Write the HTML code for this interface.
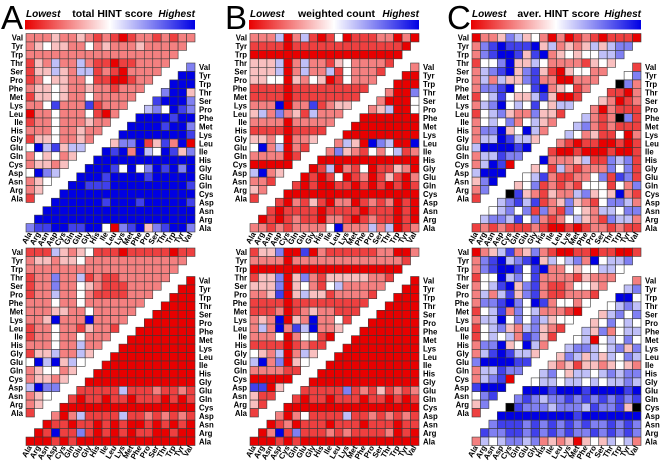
<!DOCTYPE html>
<html><head><meta charset="utf-8">
<style>
html,body{margin:0;padding:0;background:#fff;}
svg{display:block;font-family:"Liberation Sans",Arial,sans-serif;}
</style></head>
<body>
<svg id="fig" width="662" height="462" viewBox="0 0 662 462" xmlns="http://www.w3.org/2000/svg"></svg>
<script>
// Residue ordering (rows top->bottom) and columns (left->right)
const rowNames = ["Val","Tyr","Trp","Thr","Ser","Pro","Phe","Met","Lys","Leu","Ile","His","Gly","Glu","Gln","Cys","Asp","Asn","Arg","Ala"];
const colNames = ["Ala","Arg","Asn","Asp","Cys","Gln","Glu","Gly","His","Ile","Leu","Lys","Met","Phe","Pro","Ser","Thr","Trp","Tyr","Val"];
// Panel titles
const panelLetters = ["A","B","C"];
const panelTitles = ["total HINT score","weighted count","aver. HINT score"];
// Cell values: 0 = lowest (red), 4 = neutral (white), 8 = highest (blue), k = black
const aTopUpper = ["22232232121012212122","2343322423222322222","222222222222222222","13252252110112222","1335325512102222","124332241100122","23343223221222","1334322422222","224722271222","02242224102","1224222322","222422322","13342232","4857355","243423","23323","4865","234","23","1"];
const aTopLower = ["6","88","888","6883","78886","564876","8888788","88887886","888888887","3668137280","87828548736","888888888888","8887484687868","88878888788888","887778888888887","8888888888888888","88888878887888887","888888888888888888","8888888888888888888","67788778840678367886"];
const aBotUpper = ["11153234111011111011","2332334222222222222","222222222222222222","12262251211222222","1226224321112222","122522421111222","22242242222222","2223322422222","223822282222","12242213221","1224224222","222422522","13352253","4858354","234423","23323","5866","234","23","1"];
const aBotLower = ["0","00","000","0000","00000","000000","0000000","00000000","000000000","0000000000","00000000000","000000000000","0000000000000","11111511121121","101101101110101","0000000000000000","20251111511212121","011011010100101010","0181161010101100100","00010100000000000000"];
const bTopUpper = ["22250251014011122020","1111011111111111110","000000000000000000","33350252213422221","3335025225142221","334403243014222","11110111111111","1111011111111","222802271233","35262315222","2222022222","111101111","33240223","4825021","222201","00000","5823","221","32","1"];
const bTopLower = ["2","00","000","2006","20004","235004","0000000","00000000","000000000","2530865008","26321424512","000000000000","0150214011320","01014012013102","101001101010101","0000000000000000","10213102201212010","101111011110111010","0101211022101211010","22121222248222525012"];
const bBotUpper = ["13360070211111122002","2222022222222222221","000000000000000000","13360362133333221","3336034214522222","223703533122221","11110111111111","1112012322111","232803282241","25282758223","2224024410","111101211","43250253","5826034","222211","00000","7703","311","31","1"];
const bBotLower = ["0","00","000","0000","00000","000000","0000000","00000000","000000000","0000000000","00000000000","000000000000","0000000000000","11111612131212","101101110110101","0000000000000000","20241111511212121","012011101110111011","0281611121211112010","00010100000000000000"];
const cTopUpper = ["02236534202012101110","2678777835232353566","267887378234344556","14468335422221343","2567836731034422","252533672200222","26678447823412","1457433573001","256845474355","14563226331","2454624532","266834852","25587553","5888878","255766","25870","5888","368","26","1"];
const cTopLower = ["1","46","k62","1102","32012","202111","5212k61","56212111","542311402","2101100101","10010001001","822235116561","3415212226461","45721122461761","346121214441426","k732132256343821","56757123632146652","456461621643255466","5665746212453216552","12121112100101221211"];
const cBotUpper = ["02357236210011011001","2678567835456284556","267887478224344554","14485647222213222","2457836721124432","252573672112221","26678648724424","1457264522210","255846465344","14563256321","1454527631","266834852","25787553","6888877","255766","25670","7888","467","36","1"];
const cBotLower = ["2","56","884","4565","35646","346454","5362455","45045464","566545636","3653535465","32313323432","564355456566","4554554545565","88878887888878","676566767676767","k76665666576673k","88888888878888888","677767676767667676","7667767676766767676","25456656232303435452"];

const NS = "http://www.w3.org/2000/svg";
const svg = document.getElementById("fig");
const CELL = 8.45, N = 20;
const panelX = [26, 250, 472];
const halves = [
  [[aTopUpper,aTopLower],[aBotUpper,aBotLower]],
  [[bTopUpper,bTopLower],[bBotUpper,bBotLower]],
  [[cTopUpper,cTopLower],[cBotUpper,cBotLower]]
];
const blockY = [{u:33.5,l:63},{u:248,l:276.5}];

function mk(tag, attrs, parent){
  const e = document.createElementNS(NS, tag);
  for (const k in attrs) e.setAttribute(k, attrs[k]);
  (parent||svg).appendChild(e);
  return e;
}
function color(ch){
  if (ch === "k") return "#000";
  const v = parseFloat(ch);
  const red=[232,0,0], blue=[0,0,228], w=[255,255,255];
  let c;
  if (v <= 4){ const t=v/4; c=red.map((r,i)=>Math.round(r+(w[i]-r)*t)); }
  else { const t=(v-4)/4; c=w.map((r,i)=>Math.round(r+(blue[i]-r)*t)); }
  return "rgb("+c.join(",")+")";
}
function xScale(x0, col){ return x0 + col*CELL; }
function yScale(y0, row){ return y0 + row*CELL; }

const defs = mk("defs",{});
const lg = mk("linearGradient",{id:"cbar",x1:"0",x2:"1",y1:"0",y2:"0"},defs);
mk("stop",{offset:"0","stop-color":"rgb(232,0,0)"},lg);
mk("stop",{offset:"0.5","stop-color":"#fff"},lg);
mk("stop",{offset:"1","stop-color":"rgb(0,0,228)"},lg);

panelX.forEach((x0,p)=>{
  const g = mk("g",{});
  
  
  const L = mk("text",{x:x0-25,y:29,"font-size":"33"},g);
  L.textContent = panelLetters[p];
  
  
  const cb = mk("rect",{x:x0-1,y:20,width:N*CELL+1,height:9.5,fill:"url(#cbar)"},g);
  
  
  const lo = mk("text",{x:x0,y:17,"font-size":"10","font-weight":"bold","font-style":"italic"},g);
  lo.textContent = "Lowest";
  
  
  const hi = mk("text",{x:x0+N*CELL,y:17,"font-size":"10","font-weight":"bold","font-style":"italic","text-anchor":"end"},g);
  hi.textContent = "Highest";
  
  
  const tt = mk("text",{x:x0+N*CELL/2+2,y:17,"font-size":"10.5","font-weight":"bold","text-anchor":"middle"},g);
  tt.textContent = panelTitles[p];
  
  

  blockY.forEach((by,b)=>{
    const [up, lo2] = halves[p][b];
    up.forEach((s,r)=>{
      for (let c=0;c<s.length;c++){
        const rc = mk("rect",{x:xScale(x0,c),y:yScale(by.u,r),width:CELL,height:CELL,fill:color(s[c]),stroke:"#3a3a3a","stroke-width":"0.6"},g);
        
        
      }
      const t = mk("text",{x:x0-3,y:yScale(by.u,r)+CELL/2+3,"font-size":"7.8","font-weight":"bold","text-anchor":"end"},g);
      t.textContent = rowNames[r];
      
      
    });
    lo2.forEach((s,r)=>{
      const start = N - s.length;
      for (let c=0;c<s.length;c++){
        const rc = mk("rect",{x:xScale(x0,start+c),y:yScale(by.l,r),width:CELL,height:CELL,fill:color(s[c]),stroke:"#3a3a3a","stroke-width":"0.6"},g);
        
        
      }
      const t = mk("text",{x:x0+N*CELL+4,y:yScale(by.l,r)+CELL/2+3,"font-size":"7.8","font-weight":"bold"},g);
      t.textContent = rowNames[r];
      
      
    });
    const ly = by.l + N*CELL + 2;
    colNames.forEach((cn,c)=>{
      const cx = xScale(x0,c)+CELL/2+2;
      const t = mk("text",{x:cx,y:ly,"font-size":"7.8","font-weight":"bold","text-anchor":"end",transform:"rotate(-60 "+cx+" "+ly+")"},g);
      t.textContent = cn;
      
      
    });
  });
});
</script>
</body></html>
